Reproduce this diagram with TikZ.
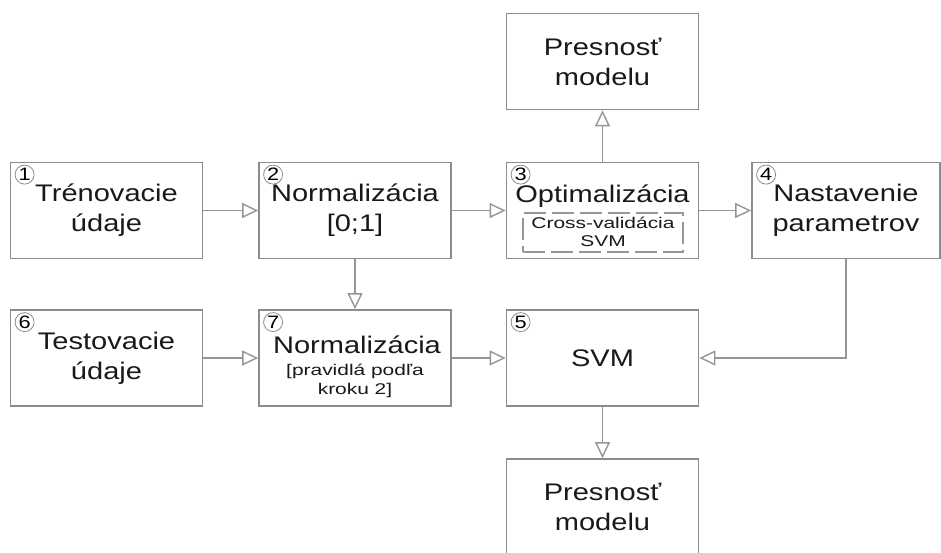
\documentclass[tikz,border=0pt]{standalone}
\usepackage{fontspec}
\setmainfont[FakeStretch=1.21]{Liberation Sans}
\newfontfamily\smallf[FakeStretch=1.35]{Liberation Sans}
\usetikzlibrary{arrows.meta}
\definecolor{lc}{RGB}{150,150,150}
\definecolor{bc}{RGB}{140,140,140}
\definecolor{tc}{RGB}{25,25,25}
\begin{document}
\begin{tikzpicture}[x=1pt,y=-1pt,
  box/.style={draw=bc, line width=1.8pt, minimum width=192pt, minimum height=96pt,
    inner sep=0pt, align=center, text=tc, font=\fontsize{24}{30}\selectfont},
  txt/.style={inner sep=0pt, align=center, text=tc, font=\fontsize{24}{30}\selectfont},
  smalltxt/.style={inner sep=0pt, align=center, text=tc, font=\smallf\fontsize{15.5}{18.5}\selectfont},
  num/.style={circle, draw=bc, line width=0.8pt, minimum size=19pt, inner sep=0pt,
    text=black, font=\fontsize{18}{18}\selectfont},
  conn/.style={draw=lc, line width=1.6pt, -{Triangle[open, length=16pt, width=15pt, line width=1.4pt]}},
  cvbox/.style={draw=lc, line width=1.2pt, dash pattern=on 22pt off 6pt, minimum width=160pt,
    minimum height=39pt, inner sep=0pt}
]
\clip (0,0) rectangle (941,553);
\fill[white] (0,0) rectangle (941,553);

% top row
\node[box] (b1) at (106.5,210.5) {Trénovacie\\údaje};
\node[box] (b2) at (355,210.5) {Normalizácia\\{[0;1]}};
\node[box] (b3) at (602.5,210.5) {};
\node[box, minimum width=188pt] (b4) at (846,210.5) {Nastavenie\\parametrov};
\node[box] (top) at (602.5,61.5) {Presnosť\\modelu};

% bottom row
\node[box] (b6) at (106.5,358) {Testovacie\\údaje};
\node[box] (b7) at (355,358) {};
\node[box] (b5) at (602.5,358) {SVM};
\node[box] (bot) at (602.5,507) {Presnosť\\modelu};

% inner texts
\node[txt, anchor=base] (opt) at (602.5,203) {Optimalizácia};
\node[cvbox] (cv) at (603,232.5) {};
\node[smalltxt] (cvt) at (603,232) {Cross-validácia\\SVM};
\node[txt, anchor=base] (n7) at (357,353) {Normalizácia};
\node[smalltxt, anchor=north] (n7s) at (355,364) {[pravidlá podľa\\kroku 2]};

% numbers
\node[num] (c1) at ([shift={(15,13)}]b1.north west) {1};
\node[num] (c2) at ([shift={(15,13)}]b2.north west) {2};
\node[num] (c3) at ([shift={(15,13)}]b3.north west) {3};
\node[num] (c4) at ([shift={(15,13)}]b4.north west) {4};
\node[num] (c5) at ([shift={(15,13)}]b5.north west) {5};
\node[num] (c6) at ([shift={(15,13)}]b6.north west) {6};
\node[num] (c7) at ([shift={(15,13)}]b7.north west) {7};

% connectors
\draw[conn] (b1.east) -- (b2.west);
\draw[conn] (b2.east) -- (b3.west);
\draw[conn] (b3.east) -- (b4.west);
\draw[conn] (b3.north) -- (top.south);
\draw[conn] (b2.south) -- (b7.north);
\draw[conn] (b6.east) -- (b7.west);
\draw[conn] (b7.east) -- (b5.west);
\draw[conn] (b4.south) |- (b5.east);
\draw[conn] (b5.south) -- (bot.north);
\end{tikzpicture}
\end{document}
